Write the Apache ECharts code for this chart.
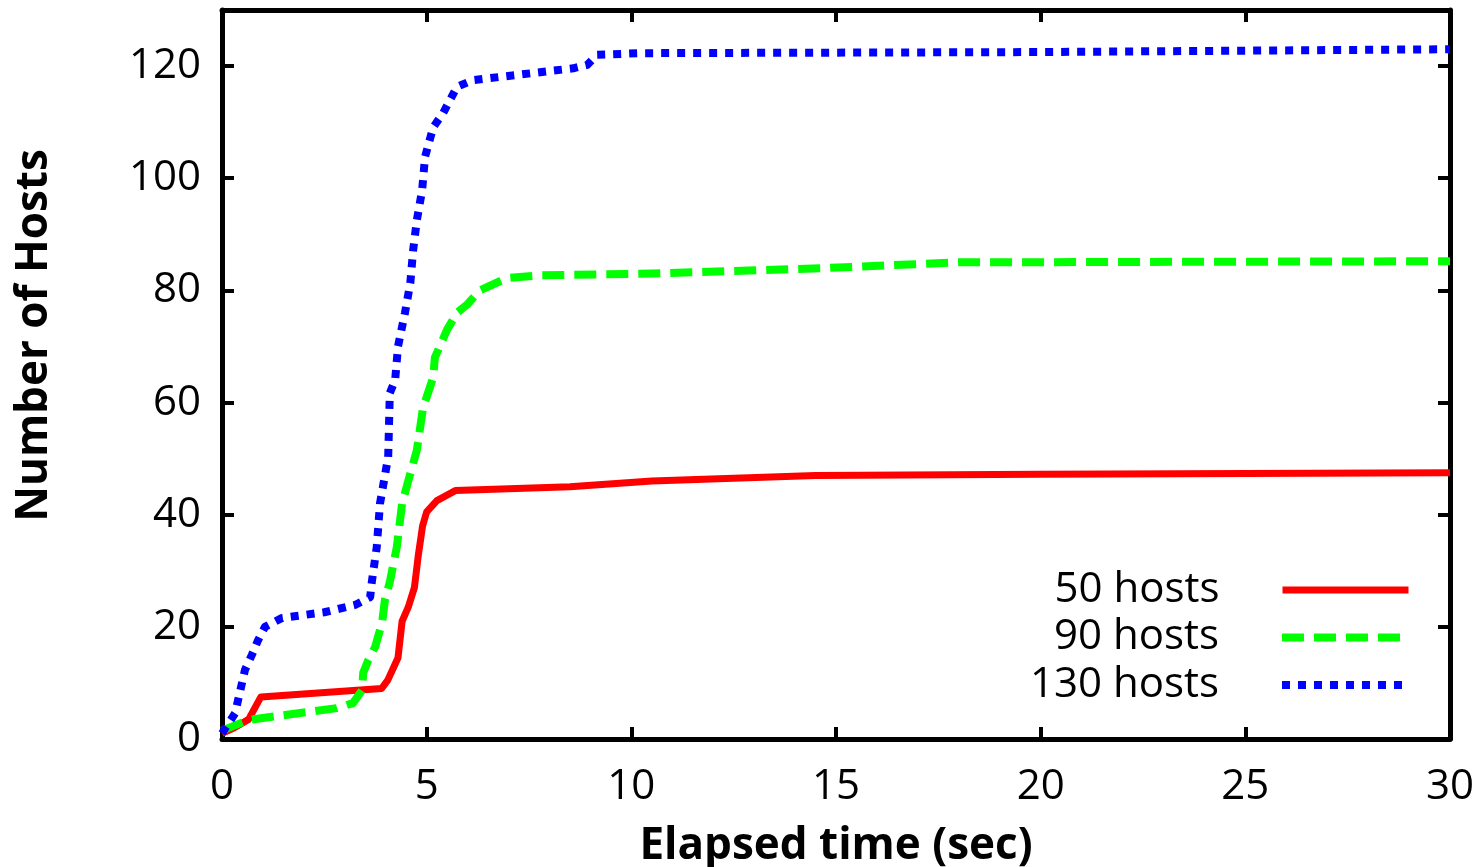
<!DOCTYPE html>
<html><head><meta charset="utf-8">
<script src="https://cdn.jsdelivr.net/npm/echarts@6/dist/echarts.min.js"></script>
<style>html,body{margin:0;padding:0;background:#fff}#c{width:1484px;height:867px}</style>
</head><body><div id="c"></div>
<script>
var seriesNames = ['50 hosts', '90 hosts', '130 hosts'];
var hosts50 = [[0,1],[0.3,2],[0.65,3.5],[0.95,7.5],[3.9,9],[4.05,10.5],[4.3,14.5],[4.4,21],[4.55,23.5],[4.7,27],[4.8,33],[4.9,38],[5.0,40.5],[5.25,42.5],[5.7,44.3],[8.5,45],[10.5,46],[14.5,47],[20,47.2],[30,47.5]];
var hosts90 = [[0,1.5],[0.65,3.4],[2.8,5.5],[3.2,6.4],[3.42,8.7],[3.45,11.8],[3.57,14],[3.74,16.4],[3.91,20.7],[3.98,24.8],[4.1,28],[4.27,34.2],[4.4,42],[4.55,46],[4.76,51.5],[4.91,59],[5.16,64.5],[5.2,68],[5.5,73],[5.74,76],[5.98,77.4],[6.3,80],[6.96,82.2],[7.8,82.7],[10.5,83],[14.8,84],[18,85],[30,85.2]];
var hosts130 = [[0,1],[0.32,4.6],[0.56,12.3],[0.73,15],[0.88,17.6],[1.05,20],[1.47,21.6],[2.5,22.6],[3.25,23.9],[3.62,25.3],[3.66,28],[3.78,34.2],[3.86,42],[4.06,50.3],[4.1,61.7],[4.23,64],[4.3,70],[4.47,76],[4.6,81.3],[4.67,87.2],[4.76,92.5],[4.89,97.9],[4.96,103.8],[5.16,109.1],[5.4,111.6],[5.74,116.3],[6.13,117.5],[8.58,119.6],[8.92,120.2],[9.16,122],[10.2,122.3],[20,122.5],[30,123]];
var xTicks = {min: 0, max: 30, interval: 5};
var yTicks = {min: 0, max: 130, interval: 20};

var FONT = '"Open Sans", sans-serif';
var chart = echarts.init(document.getElementById('c'), null, {renderer: 'canvas'});
function axisBase(extra) {
  return Object.assign({
    axisLine: {show: true, onZero: false, lineStyle: {color: '#000', width: 5}},
    axisTick: {show: true, inside: true, length: 12, lineStyle: {color: '#000', width: 4}},
    splitLine: {show: false}
  }, extra);
}
var colors = ['#ff0000', '#00ff00', '#0000ff'];
var styles = [
  {width: 7, type: 'solid'},
  {width: 8, type: [22, 10]},
  {width: 8, type: [8, 8]}
];
var datas = [hosts50, hosts90, hosts130];
var series = datas.map(function (d, i) {
  return {
    name: seriesNames[i], type: 'line', data: d, showSymbol: false, symbol: 'none',
    xAxisIndex: 0, yAxisIndex: 0, animation: false,
    lineStyle: {color: colors[i], width: styles[i].width, type: styles[i].type, cap: 'butt', join: 'round'},
    itemStyle: {color: colors[i]}
  };
});
var legends = seriesNames.map(function (n, i) {
  return {
    show: true,
    data: [n],
    orient: 'horizontal',
    right: 67, top: 564 + i * 47.5, align: 'right', itemWidth: 126, itemHeight: 24,
    itemStyle: {opacity: 0},
    lineStyle: {width: styles[i].width, type: styles[i].type, color: colors[i], cap: 'butt'},
    textStyle: {fontFamily: FONT, fontSize: 42, color: '#000', padding: [0, 58, 0, 0]},
    selectedMode: false
  };
});
chart.setOption({
  backgroundColor: '#fff',
  animation: false,
  grid: {left: 222, right: 34, top: 10, bottom: 128, containLabel: false, outerBoundsMode: 'none'},
  legend: legends,
  xAxis: [
    axisBase({type: 'value', position: 'bottom', min: xTicks.min, max: xTicks.max, interval: xTicks.interval,
      axisLabel: {fontFamily: FONT, fontSize: 42, color: '#000', margin: 27},
      name: 'Elapsed time (sec)', nameLocation: 'middle', nameGap: 85,
      nameTextStyle: {fontFamily: FONT, fontSize: 44, fontWeight: 'bold', color: '#000'}}),
    axisBase({type: 'value', position: 'top', min: xTicks.min, max: xTicks.max, interval: xTicks.interval,
      axisLabel: {show: false}})
  ],
  yAxis: [
    axisBase({type: 'value', position: 'left', min: yTicks.min, max: yTicks.max, interval: yTicks.interval,
      axisLabel: {fontFamily: FONT, fontSize: 42, color: '#000', margin: 21, showMaxLabel: false,
        formatter: function (v) { return v % 20 === 0 ? String(v) : ''; }},
      name: 'Number of Hosts', nameLocation: 'middle', nameGap: 166,
      nameTextStyle: {fontFamily: FONT, fontSize: 44, fontWeight: 'bold', color: '#000', padding: [0, 0, 0, 78]}}),
    axisBase({type: 'value', position: 'right', min: yTicks.min, max: yTicks.max, interval: yTicks.interval,
      axisLabel: {show: false}})
  ],
  series: series
});
</script></body></html>
